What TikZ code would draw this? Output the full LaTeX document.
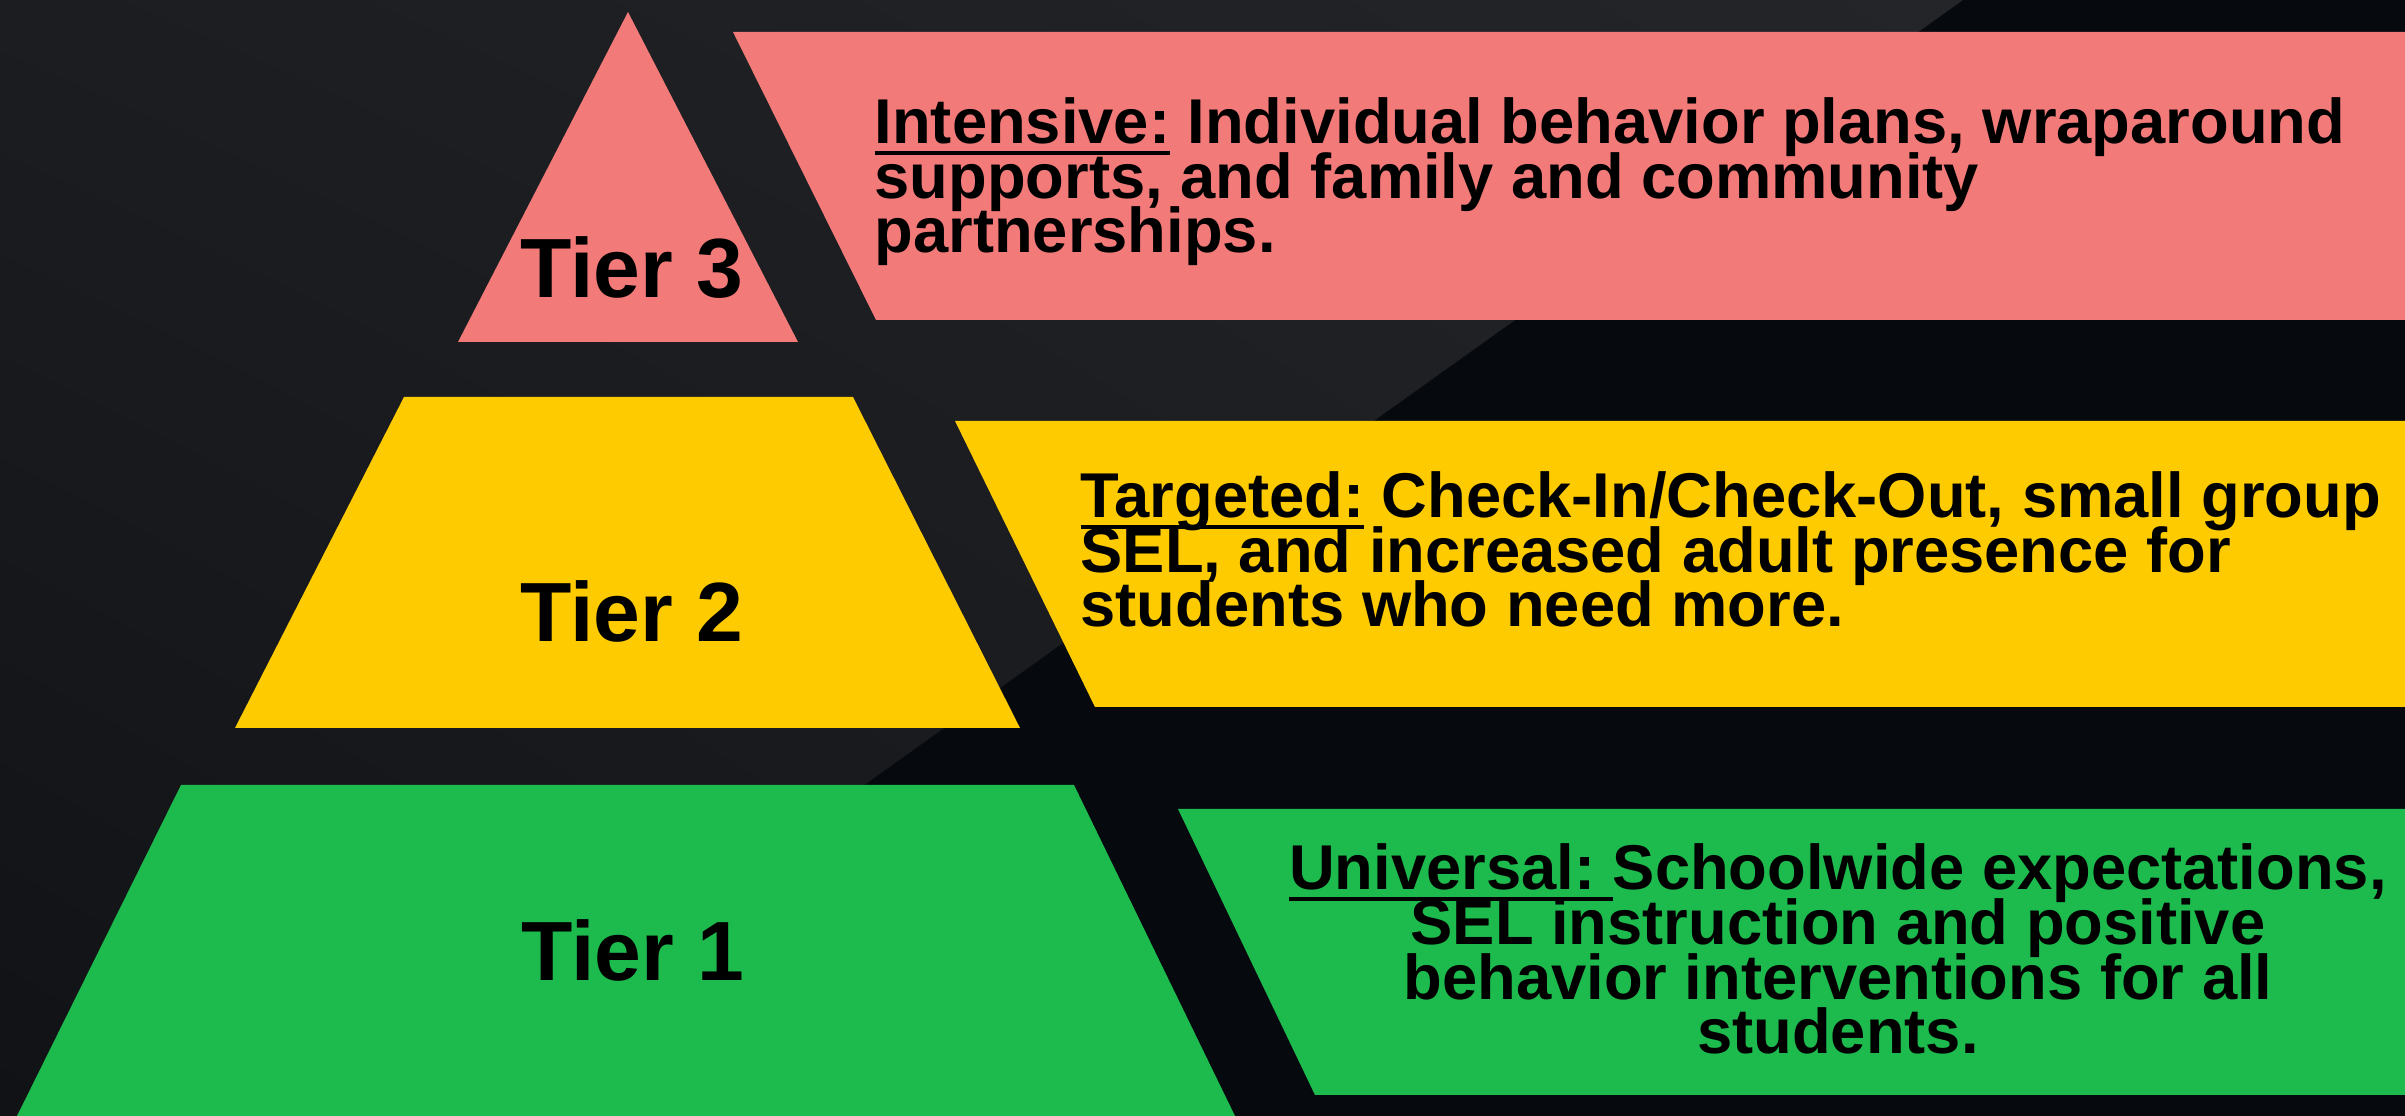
\documentclass[tikz,border=0pt]{standalone}
\usepackage{fontspec}
\setmainfont{Liberation Sans}
\usetikzlibrary{shadings}
\newcommand{\ulword}[1]{\setbox0\hbox{#1}\rlap{\vrule height -2.1pt depth 3.3pt width \wd0}\box0\relax}
\setlength{\lineskiplimit}{-100pt}
\definecolor{bgdark}{HTML}{06090E}
\definecolor{bgtl}{HTML}{1C1D21}
\definecolor{bgtr}{HTML}{242528}
\definecolor{bgbl}{HTML}{111216}
\definecolor{bgbr}{HTML}{1D1E21}
\definecolor{tierpink}{HTML}{F27B7A}
\definecolor{tieryellow}{HTML}{FECB00}
\definecolor{tiergreen}{HTML}{1DBB4D}
\tikzset{
    tier/.style={font=\fontsize{23.9}{26}\selectfont\bfseries, anchor=base, inner sep=0pt},
    desc/.style={font=\fontsize{18}{15.6}\selectfont\bfseries, inner sep=0pt},
}

\begin{document}
\begin{tikzpicture}[x=0.01cm, y=-0.01cm]
    \useasboundingbox (0,0) rectangle (2405,1116);
    \fill[bgdark] (0,0) rectangle (2405,1116);
    \shade[upper left=bgtl, upper right=bgtr, lower left=bgbl, lower right=bgbr]
        (0,0) -- (1963,0) -- (401,1116) -- (0,1116) -- cycle;

    % pyramid
    \fill[tierpink] (628,12) -- (798,342) -- (458,342) -- cycle;
    \fill[tieryellow] (404,397) -- (853,397) -- (1020,728) -- (235,728) -- cycle;
    \fill[tiergreen] (181,785) -- (1074,785) -- (1235,1116) -- (17,1116) -- cycle;

    % banners
    \fill[tierpink] (733,32) -- (2405,32) -- (2405,320) -- (876,320) -- cycle;
    \fill[tieryellow] (955,421) -- (2405,421) -- (2405,707) -- (1095,707) -- cycle;
    \fill[tiergreen] (1178,809) -- (2405,809) -- (2405,1095) -- (1315,1095) -- cycle;

    \node[tier] (tier3) at (632,298) {Tier 3};
    \node[tier] (tier2) at (632,642) {Tier 2};
    \node[tier] (tier1) at (633,981) {Tier 1};

    % base anchor sits on the last line
    \node[desc, anchor=base west, align=left] (intensive) at (874,253)
        {\ulword{Intensive:} Individual behavior plans, wraparound\\supports, and family and community\\partnerships.};
    \node[desc, anchor=base west, align=left] (targeted) at (1080,627)
        {\ulword{Targeted:} Check-In/Check-Out, small group\\SEL, and increased adult presence for\\students who need more.};
    \node[desc, anchor=base, align=center] (universal) at (1838,1054)
        {\ulword{Universal:\ }Schoolwide expectations,\\SEL instruction and positive\\behavior interventions for all\\students.};
\end{tikzpicture}
\end{document}
